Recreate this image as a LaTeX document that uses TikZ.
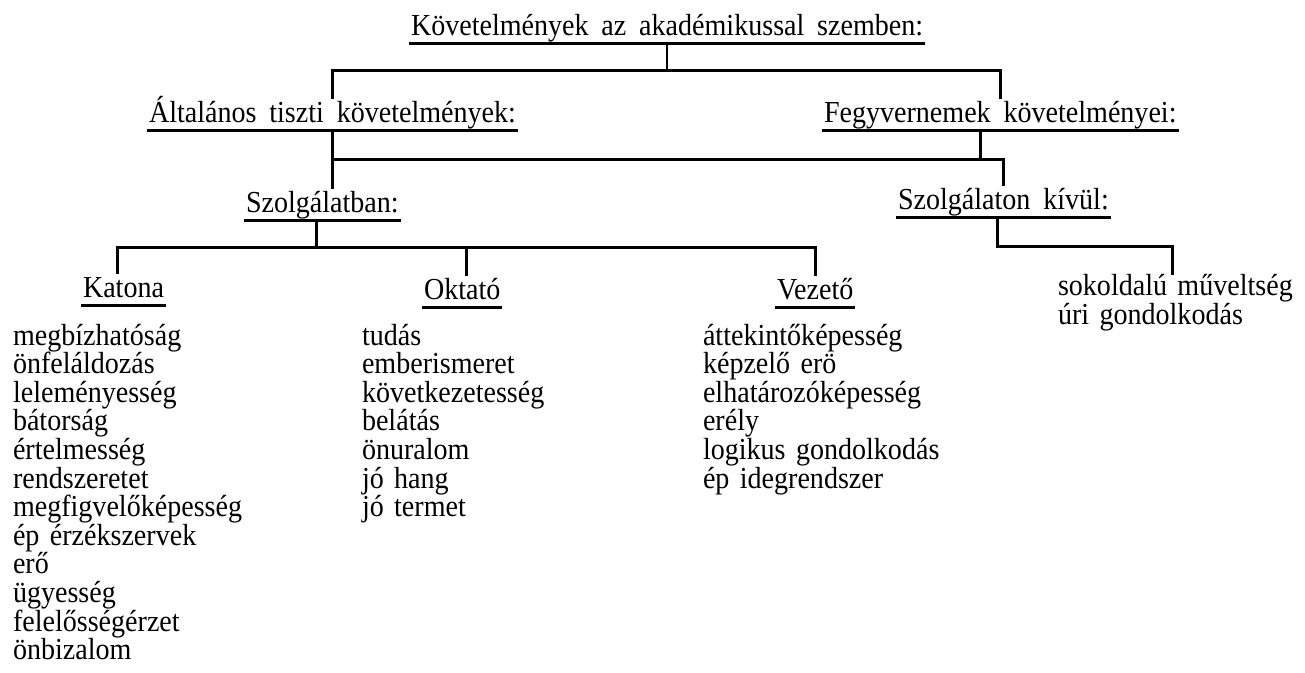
\documentclass[tikz,border=0pt]{standalone}
\usepackage{fontspec}
\setmainfont[FakeStretch=0.92]{Liberation Serif}
\usetikzlibrary{calc}
\newcommand\myfont{\fontsize{30.5pt}{30.5pt}\selectfont\spaceskip=0.42em plus 0.1em minus 0.05em\relax}
\newcommand\myitemfont{\fontsize{30.5pt}{27pt}\selectfont\spaceskip=0.34em plus 0.1em minus 0.05em\relax}
\tikzset{
  conn/.style={line width=2.8pt, line cap=rect},
  uline/.style={line width=2.8pt},
  head/.style={font=\myfont, inner xsep=2pt, inner ysep=0pt, outer sep=0pt,
    text height=24pt, text depth=8.5pt, anchor=base west,
    append after command={(\tikzlastnode.south west) edge[uline] (\tikzlastnode.south east)}},
  item/.style={font=\myitemfont, inner sep=0pt, outer sep=0pt, anchor=base west},
}
\begin{document}
\begin{tikzpicture}[x=1pt,y=-1pt]
\path[fill=white,use as bounding box] (0,0) rectangle (1305,672);

% headings
\node[head] (title) at (409,35) {Követelmények az akadémikussal szemben:};
\node[head] (alt) at (147,122) {Általános tiszti követelmények:};
\node[head] (feg) at (822,122) {Fegyvernemek követelményei:};
\node[head] (szb) at (244,212) {Szolgálatban:};
\node[head] (szk) at (896,209) {Szolgálaton kívül:};
\node[head] (kat) at (81,297) {Katona};
\node[head] (okt) at (422,299) {Oktató};
\node[head] (vez) at (775,299) {Vezető};

% lists
\foreach \t [count=\i from 0] in {megbízhatóság,önfeláldozás,leleményesség,bátorság,értelmesség,rendszeretet,megfigvelőképesség,ép érzékszervek,erő,ügyesség,felelősségérzet,önbizalom}
  \node[item] (k\i) at (13,345+28.6*\i) {\t};
\foreach \t [count=\i from 0] in {tudás,emberismeret,következetesség,belátás,önuralom,jó hang,jó termet}
  \node[item] (o\i) at (362,345+28.6*\i) {\t};
\foreach \t [count=\i from 0] in {áttekintőképesség,képzelő erö,elhatározóképesség,erély,logikus gondolkodás,ép idegrendszer}
  \node[item] (v\i) at (703,345+28.6*\i) {\t};
\node[item, align=left, anchor=north west] (s1) at (1058,274) {sokoldalú műveltség\\úri gondolkodás};

% connectors
\draw[conn] (title.south) -- ++(0,27) coordinate (j1);
\draw[conn] (alt.north) |- (j1) -| (feg.north);

\draw[conn] (alt.south) -- (alt.south |- szb.north);
\coordinate (j2) at ($(alt.south)+(0,29)$);
\draw[conn] (j2) -| (szk.north);
\draw[conn] ([xshift=-20pt]feg.south) -- ([xshift=-20pt]feg.south |- j2);

\draw[conn] ([xshift=-6pt]szb.south) -- ++(0,27) coordinate (j3);
\draw[conn] ([xshift=-6pt]kat.north) |- (j3) -| (vez.north);
\draw[conn] ([xshift=4pt]okt.north) -- ([xshift=4pt]okt.north |- j3);

\draw[conn] ([xshift=-6pt]szk.south) -- ++(0,29) coordinate (j4);
\draw[conn] (j4) -| ([xshift=-3pt]s1.north);
\end{tikzpicture}
\end{document}
